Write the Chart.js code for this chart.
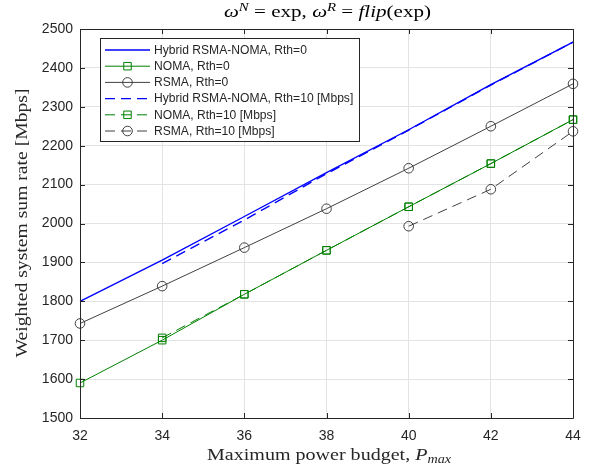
<!DOCTYPE html>
<html>
<head>
<meta charset="utf-8">
<script src="https://cdn.jsdelivr.net/npm/chart.js@4.4.1/dist/chart.umd.min.js"></script>
<style>
  html, body { margin: 0; padding: 0; background: #ffffff; }
  #wrap { width: 595px; height: 472px; }
</style>
</head>
<body>
<div id="wrap"><canvas id="c" width="595" height="472"></canvas></div>
<script>
// ---- Data ----
const powerBudget = [32, 34, 36, 38, 40, 42, 44];
const xTicks = [32, 34, 36, 38, 40, 42, 44];
const yTicks = [1500, 1600, 1700, 1800, 1900, 2000, 2100, 2200, 2300, 2400, 2500];

const hybridRth0  = [1800, 1906, 2018, 2131, 2241, 2357, 2466];
const nomaRth0    = [1590, 1700, 1818, 1931, 2043, 2154, 2267];
const rsmaRth0    = [1743, 1839, 1938, 2038, 2142, 2250, 2359];
const hybridRth10 = [null, 1897, 2009, 2128, 2240, 2356, 2466];
const nomaRth10   = [null, 1706, 1818, 1931, 2043, 2154, 2267];
const rsmaRth10   = [null, null, null, null, 1993, 2088, 2237];

const seriesNames = [
  'Hybrid RSMA-NOMA, Rth=0',
  'NOMA, Rth=0',
  'RSMA, Rth=0',
  'Hybrid RSMA-NOMA, Rth=10 [Mbps]',
  'NOMA, Rth=10 [Mbps]',
  'RSMA, Rth=10 [Mbps]'
];

const BLUE = '#0000ff', GREEN = '#008000', GRAY = '#404040', AXIS = '#262626';
const DASH = [10, 6];

function pts(arr) {
  return powerBudget.map((x, i) => ({ x: x, y: arr[i] })).filter(p => p.y !== null);
}

function ds(label, arr, color, dashed, marker, width) {
  return {
    label: label,
    data: pts(arr),
    borderColor: color,
    backgroundColor: 'rgba(0,0,0,0)',
    borderWidth: width,
    borderDash: dashed ? DASH : [],
    pointStyle: marker || 'circle',
    pointRadius: marker ? (marker === 'rect' ? 5.3 : 4.8) : 0,
    pointBorderColor: color,
    pointBackgroundColor: 'rgba(0,0,0,0)',
    pointBorderWidth: 1,
    tension: 0,
    clip: 10
  };
}

const datasets = [
  ds(seriesNames[0], hybridRth0, BLUE, false, null, 1.4),
  ds(seriesNames[1], nomaRth0, GREEN, false, 'rect', 1),
  ds(seriesNames[2], rsmaRth0, GRAY, false, 'circle', 1),
  ds(seriesNames[3], hybridRth10, BLUE, true, null, 1.4),
  ds(seriesNames[4], nomaRth10, GREEN, true, 'rect', 1),
  ds(seriesNames[5], rsmaRth10, GRAY, true, 'circle', 1)
];

const SERIF = '"Liberation Serif", "DejaVu Serif", serif';
const SANS = '"Liberation Sans", Arial, sans-serif';

// Draw mixed-font text centred at cx, optionally stretched to a target width
function drawRich(ctx, segs, cx, baseline, targetW) {
  let total = 0;
  segs.forEach(s => { ctx.font = s[1]; total += ctx.measureText(s[0]).width; });
  const sx = targetW ? targetW / total : 1;
  ctx.save();
  ctx.translate(cx - total * sx / 2, baseline);
  ctx.scale(sx, 1);
  ctx.textAlign = 'left';
  ctx.textBaseline = 'alphabetic';
  let x = 0;
  segs.forEach(s => {
    ctx.font = s[1];
    ctx.fillText(s[0], x, s[2] || 0);
    x += ctx.measureText(s[0]).width;
  });
  ctx.restore();
}

const decor = {
  id: 'decor',
  afterDatasetsDraw(chart) {
    const ctx = chart.ctx;
    const a = chart.chartArea;
    const xs = chart.scales.x, ys = chart.scales.y;
    ctx.save();
    // axes box
    ctx.strokeStyle = AXIS;
    ctx.lineWidth = 1;
    ctx.beginPath();
    ctx.rect(Math.round(a.left) + 0.5, Math.round(a.top) + 0.5,
             Math.round(a.right - a.left), Math.round(a.bottom - a.top));
    ctx.stroke();
    // inner ticks on all four sides
    const tl = 5;
    ctx.beginPath();
    xTicks.forEach(v => {
      const px = Math.round(xs.getPixelForValue(v)) + 0.5;
      ctx.moveTo(px, a.bottom); ctx.lineTo(px, a.bottom - tl);
      ctx.moveTo(px, a.top); ctx.lineTo(px, a.top + tl);
    });
    yTicks.forEach(v => {
      const py = Math.round(ys.getPixelForValue(v)) + 0.5;
      ctx.moveTo(a.left, py); ctx.lineTo(a.left + tl, py);
      ctx.moveTo(a.right, py); ctx.lineTo(a.right - tl, py);
    });
    ctx.stroke();

    // Legend
    const lx = 100.5, ly = 38.5, lw = 259, lh = 103;
    ctx.fillStyle = '#ffffff';
    ctx.fillRect(lx, ly, lw, lh);
    ctx.strokeStyle = AXIS;
    ctx.strokeRect(lx, ly, lw, lh);
    ctx.textBaseline = 'middle';
    ctx.textAlign = 'left';
    chart.data.datasets.forEach((d, i) => {
      const cy = 50 + i * 16.2;
      ctx.strokeStyle = d.borderColor;
      ctx.lineWidth = d.borderWidth;
      ctx.setLineDash(d.borderDash && d.borderDash.length ? d.borderDash : []);
      ctx.beginPath();
      ctx.moveTo(105, cy); ctx.lineTo(150, cy);
      ctx.stroke();
      ctx.setLineDash([]);
      if (d.pointRadius > 0) {
        ctx.lineWidth = 1;
        ctx.fillStyle = 'rgba(0,0,0,0)';
        ctx.strokeStyle = d.borderColor;
        Chart.helpers.drawPoint(ctx, {
          pointStyle: d.pointStyle, radius: d.pointRadius, rotation: 0, borderWidth: 1
        }, 127.5, cy);
      }
      ctx.font = '12.1px ' + SANS;
      ctx.fillStyle = AXIS;
      ctx.textBaseline = 'middle';
      ctx.textAlign = 'left';
      ctx.fillText(d.label, 154, cy + 0.5);
    });

    // Title
    ctx.fillStyle = '#000000';
    const cx = (a.left + a.right) / 2;
    const R = '17px ' + SERIF, I = 'italic 17px ' + SERIF, S = 'italic 12px ' + SERIF;
    drawRich(ctx, [
      ['\u03c9', I, 0], ['N', S, -6], [' = exp, ', R, 0],
      ['\u03c9', I, 0], ['R', S, -6], [' = ', R, 0],
      ['flip', I, 0], ['(exp)', R, 0]
    ], cx + 1, 17, 207);

    // X label
    ctx.fillStyle = '#262626';
    drawRich(ctx, [
      ['Maximum power budget, ', R, 0], ['P', I, 0], ['max', S, 3]
    ], 329, 460, 244);

    // Y label
    ctx.save();
    ctx.translate(22, 223);
    ctx.rotate(-Math.PI / 2);
    drawRich(ctx, [['Weighted system sum rate [Mbps]', R, 0]], 0, 5, 269);
    ctx.restore();

    ctx.restore();
  }
};

new Chart(document.getElementById('c'), {
  type: 'line',
  data: { datasets: datasets },
  options: {
    responsive: false,
    devicePixelRatio: 1,
    animation: false,
    layout: { padding: { top: 29, right: 22, left: 0, bottom: 0 } },
    plugins: { legend: { display: false }, title: { display: false }, tooltip: { enabled: false } },
    scales: {
      x: {
        type: 'linear', min: 32, max: 44,
        afterBuildTicks: s => { s.ticks = xTicks.map(v => ({ value: v })); },
        afterFit: s => { s.height = 54; },
        grid: { color: '#e3e3e3', drawTicks: false, lineWidth: 1 },
        border: { display: false },
        ticks: { padding: 10, color: AXIS, font: { family: SANS, size: 14 }, maxRotation: 0,
                 callback: v => String(v) }
      },
      y: {
        type: 'linear', min: 1500, max: 2500,
        afterBuildTicks: s => { s.ticks = yTicks.map(v => ({ value: v })); },
        afterFit: s => { s.width = 80; },
        grid: { color: '#e3e3e3', drawTicks: false, lineWidth: 1 },
        border: { display: false },
        ticks: { padding: 7, color: AXIS, font: { family: SANS, size: 14 },
                 callback: v => String(v) }
      }
    }
  },
  plugins: [decor]
});
</script>
</body>
</html>
